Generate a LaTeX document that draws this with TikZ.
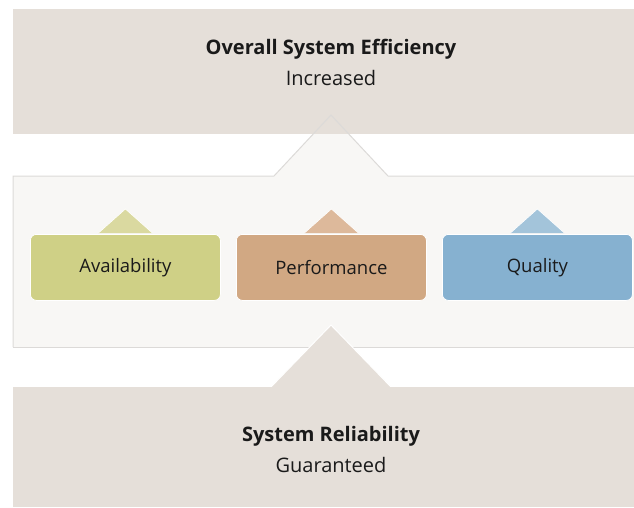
\documentclass[tikz,border=0pt]{standalone}
\usepackage{fontspec}
\setmainfont{Open Sans}
\usetikzlibrary{positioning}
\definecolor{mbeige}{HTML}{E5DFD9}
\definecolor{mpanel}{HTML}{F8F7F5}
\definecolor{mline}{HTML}{DCDAD8}
\definecolor{mgreen}{HTML}{CFD086}
\definecolor{mgreentab}{HTML}{DAD9A0}
\definecolor{mbrown}{HTML}{D1A883}
\definecolor{mbrowntab}{HTML}{DDB99B}
\definecolor{mblue}{HTML}{86B1D0}
\definecolor{mbluetab}{HTML}{A3C4DA}
\definecolor{mtext}{HTML}{1A1A1A}
\tikzset{band/.style = {fill=mbeige, minimum width=621pt, inner sep=0pt,
                        anchor=north west}}
\tikzset{pillar/.style = {draw=white, line width=0.8pt, rounded corners=6pt,
                          minimum width=190pt, minimum height=66pt,
                          inner sep=0pt, anchor=north west, text=mtext,
                          font=\fontsize{18.5}{22}\selectfont}}
\tikzset{caption/.style = {align=center, text=mtext,
                           font=\fontsize{20}{31}\selectfont}}

\begin{document}
\begin{tikzpicture}[x=1pt, y=-1pt]
      \useasboundingbox (0,0) rectangle (634,507);

      % middle panel with its tab
      \fill [mpanel] (13,176) -- (274,176) -- (331,115) -- (388,176)
            -- (634,176) -- (634,347) -- (13,347) -- cycle;

      \node [band, minimum height=125pt] (effbox) at (13,9) {};
      \node [caption] (eff) at (331,62)
            {{\bfseries Overall System Efficiency}\\Increased};

      \draw [mline, line width=1pt] (13,347) -- (13,176) -- (274,176)
            -- (331,115) -- (388,176) -- (634,176);
      \draw [mline, line width=1pt] (13,347) -- (634,347);

      \node [pillar, fill=mgreen] (avail) at (30,234) {Availability};
      \node [pillar, fill=mbrown] (perf) at (236,234) {Performance};
      \node [pillar, fill=mblue] (qual) at (442,234) {Quality};

      \filldraw [fill=mgreentab, draw=white, line width=0.6pt]
            ([xshift=-27pt, yshift=1pt]avail.north) -- ([yshift=25pt]avail.north)
            -- ([xshift=27pt, yshift=1pt]avail.north);
      \filldraw [fill=mbrowntab, draw=white, line width=0.6pt]
            ([xshift=-27pt, yshift=1pt]perf.north) -- ([yshift=25pt]perf.north)
            -- ([xshift=27pt, yshift=1pt]perf.north);
      \filldraw [fill=mbluetab, draw=white, line width=0.6pt]
            ([xshift=-27pt, yshift=1pt]qual.north) -- ([yshift=25pt]qual.north)
            -- ([xshift=27pt, yshift=1pt]qual.north);

      % bottom band with its tab
      \filldraw [fill=mbeige, draw=white, line width=1pt]
            (270,388) -- (331,325) -- (392,388);
      \node [band, minimum height=120pt] (relbox) at (13,387) {};
      \node [caption] (rel) at (331,449)
            {{\bfseries System Reliability}\\Guaranteed};
    \end{tikzpicture}
\end{document}
